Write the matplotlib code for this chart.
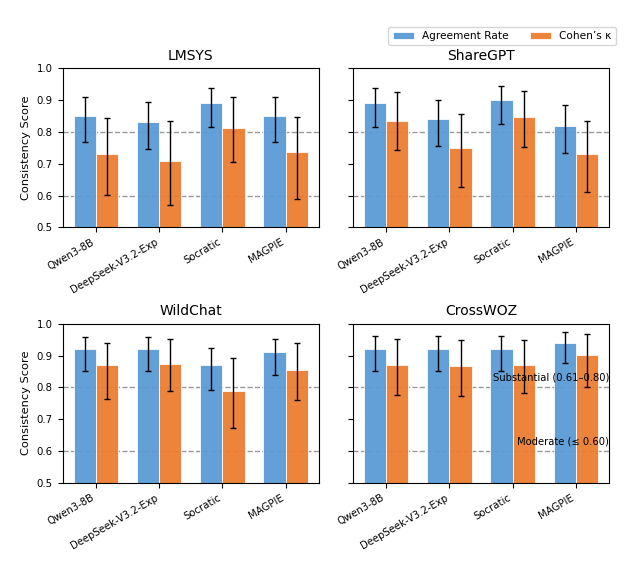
import numpy as np
import matplotlib
matplotlib.use("Agg")
import matplotlib.pyplot as plt

methods = ["Qwen3-8B", "DeepSeek-V3.2-Exp", "Socratic", "MAGPIE"]
datasets = ["LMSYS", "ShareGPT", "WildChat", "CrossWOZ"]

# agreement rate and its error bar ends (lower, upper)
agr_lmsys = [0.85, 0.83, 0.89, 0.85]
agr_lmsys_lo = [0.767, 0.745, 0.814, 0.767]
agr_lmsys_hi = [0.909, 0.893, 0.938, 0.909]
agr_sharegpt = [0.89, 0.84, 0.90, 0.82]
agr_sharegpt_lo = [0.814, 0.756, 0.826, 0.735]
agr_sharegpt_hi = [0.939, 0.900, 0.945, 0.884]
agr_wildchat = [0.92, 0.92, 0.87, 0.91]
agr_wildchat_lo = [0.851, 0.851, 0.790, 0.838]
agr_wildchat_hi = [0.959, 0.959, 0.923, 0.953]
agr_crosswoz = [0.92, 0.92, 0.92, 0.94]
agr_crosswoz_lo = [0.850, 0.850, 0.850, 0.876]
agr_crosswoz_hi = [0.960, 0.960, 0.960, 0.973]

# cohen's kappa and its error bar ends
kap_lmsys = [0.73, 0.707, 0.813, 0.737]
kap_lmsys_lo = [0.601, 0.570, 0.705, 0.590]
kap_lmsys_hi = [0.845, 0.835, 0.909, 0.846]
kap_sharegpt = [0.835, 0.75, 0.847, 0.73]
kap_sharegpt_lo = [0.744, 0.626, 0.751, 0.612]
kap_sharegpt_hi = [0.927, 0.855, 0.928, 0.833]
kap_wildchat = [0.869, 0.874, 0.789, 0.854]
kap_wildchat_lo = [0.764, 0.789, 0.672, 0.760]
kap_wildchat_hi = [0.938, 0.952, 0.891, 0.938]
kap_crosswoz = [0.869, 0.867, 0.869, 0.902]
kap_crosswoz_lo = [0.775, 0.773, 0.781, 0.802]
kap_crosswoz_hi = [0.951, 0.949, 0.948, 0.969]

agr = [agr_lmsys, agr_sharegpt, agr_wildchat, agr_crosswoz]
agr_lo = [agr_lmsys_lo, agr_sharegpt_lo, agr_wildchat_lo, agr_crosswoz_lo]
agr_hi = [agr_lmsys_hi, agr_sharegpt_hi, agr_wildchat_hi, agr_crosswoz_hi]
kap = [kap_lmsys, kap_sharegpt, kap_wildchat, kap_crosswoz]
kap_lo = [kap_lmsys_lo, kap_sharegpt_lo, kap_wildchat_lo, kap_crosswoz_lo]
kap_hi = [kap_lmsys_hi, kap_sharegpt_hi, kap_wildchat_hi, kap_crosswoz_hi]

blue = "#5B9BD5"
orange = "#ED7D31"

fig = plt.figure(figsize=(6.34, 5.74), dpi=100)
W, H = 634.0, 574.0
# axes boxes in pixels: left, top, right, bottom
boxes = [(62.5, 68.3, 319.3, 227.3), (352.7, 68.3, 609.3, 227.3),
         (62.5, 323.7, 319.3, 482.7), (352.7, 323.7, 609.3, 482.7)]

x = np.arange(len(methods))
w = 0.35

for i, name in enumerate(datasets):
    l, t, r, b = boxes[i]
    ax = fig.add_axes([l / W, 1 - b / H, (r - l) / W, (b - t) / H])
    a = np.array(agr[i])
    k = np.array(kap[i])
    ea = [a - np.array(agr_lo[i]), np.array(agr_hi[i]) - a]
    ek = [k - np.array(kap_lo[i]), np.array(kap_hi[i]) - k]
    ax.bar(x - w / 2, a, w, color=blue, edgecolor="white", linewidth=0.6,
           alpha=0.95, label="Agreement Rate")
    ax.bar(x + w / 2, k, w, color=orange, edgecolor="white", linewidth=0.6,
           alpha=0.95, label="Cohen’s κ")
    ax.errorbar(x - w / 2, a, yerr=ea, fmt="none", ecolor="black",
                elinewidth=1, capsize=2.2, capthick=1)
    ax.errorbar(x + w / 2, k, yerr=ek, fmt="none", ecolor="black",
                elinewidth=1, capsize=2.2, capthick=1)
    ax.axhline(0.8, color="gray", linestyle="--", linewidth=1, alpha=0.8, zorder=0.5)
    ax.axhline(0.6, color="gray", linestyle="--", linewidth=1, alpha=0.8, zorder=0.5)
    ax.set_ylim(0.5, 1.0)
    ax.set_yticks([0.5, 0.6, 0.7, 0.8, 0.9, 1.0])
    ax.set_xticks(x)
    ax.set_xticklabels(methods, rotation=30, ha="right", fontsize=7.3)
    ax.tick_params(axis="y", labelsize=7.3)
    ax.set_title(name, fontsize=10)
    if i % 2 == 0:
        ax.set_ylabel("Consistency Score", fontsize=8.2)
    else:
        ax.set_yticklabels([])
    if i == 3:
        ax.text(1.0, 0.815, "Substantial (0.61–0.80)", transform=ax.get_yaxis_transform(),
                ha="right", va="bottom", fontsize=7.2)
        ax.text(1.0, 0.615, "Moderate (≤ 0.60)", transform=ax.get_yaxis_transform(),
                ha="right", va="bottom", fontsize=7.2)
    if i == 0:
        handles, labels = ax.get_legend_handles_labels()

fig.legend(handles, labels, loc="upper right", ncol=2, fontsize=7.6,
           bbox_to_anchor=(616 / W, 1 - 27 / H), borderaxespad=0)

fig.savefig("out.png", dpi=100)
